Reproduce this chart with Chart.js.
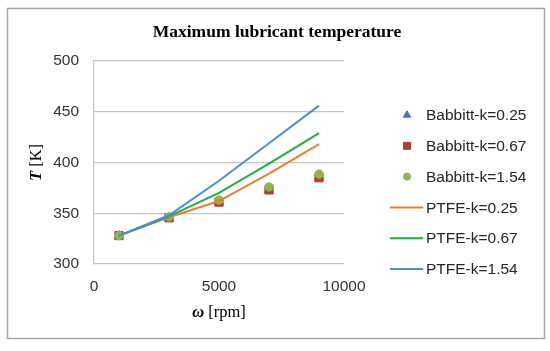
<!DOCTYPE html>
<html>
<head>
<meta charset="utf-8">
<script src="https://cdn.jsdelivr.net/npm/chart.js@4.4.1/dist/chart.umd.min.js"></script>
<style>
  html, body { margin: 0; padding: 0; background: #fff; }
</style>
</head>
<body>
<canvas id="tempChart" width="550" height="351"></canvas>
<script>
// rotational speed [rpm]
const rpm = [1000, 3000, 5000, 7000, 9000];

// measured (Babbitt) maximum lubricant temperature [K]
const babbittK025 = [328, 345.5, 361, 373, 385];
const babbittK067 = [328, 345.5, 361, 373, 385];
const babbittK154 = [328, 346.5, 363, 376, 388.5];

// PTFE curves [K]
const ptfeK025 = [328, 346, 362, 389, 418];
const ptfeK067 = [328, 347, 370, 399, 429];
const ptfeK154 = [328, 348, 382, 419, 456];

const seriesLabels = ['Babbitt-k=0.25', 'Babbitt-k=0.67', 'Babbitt-k=1.54', 'PTFE-k=0.25', 'PTFE-k=0.67', 'PTFE-k=1.54'];
const xTicks = [0, 5000, 10000];
const yTicks = [300, 350, 400, 450, 500];

const chartTitle = 'Maximum lubricant temperature';

const toPoints = (ys) => rpm.map((x, i) => ({ x: x, y: ys[i] }));

const markerSet = (label, ys, style, color, radius, order) => ({
    label: label,
    data: toPoints(ys),
    showLine: false,
    pointStyle: style,
    pointRadius: radius,
    pointHoverRadius: radius,
    pointBackgroundColor: color,
    pointBorderColor: color,
    pointBorderWidth: 1,
    backgroundColor: color,
    borderColor: color,
    order: order
});

const lineSet = (label, ys, color, order) => ({
    label: label,
    data: toPoints(ys),
    showLine: true,
    borderColor: color,
    backgroundColor: color,
    borderWidth: 2,
    pointRadius: 0,
    pointStyle: 'line',
    tension: 0,
    order: order
});

const tickFont = { family: 'Liberation Sans', size: 15.5 };

// frame, title, axis titles and legend
const decor = {
    id: 'decor',
    beforeDraw(chart) {
        const ctx = chart.ctx;
        ctx.save();
        ctx.fillStyle = '#ffffff';
        ctx.fillRect(0, 0, chart.width, chart.height);
        ctx.strokeStyle = '#a6a6a6';
        ctx.lineWidth = 1.5;
        ctx.strokeRect(7.5, 8.5, 537, 330);
        ctx.restore();
    },
    afterDraw(chart) {
        const ctx = chart.ctx;
        const area = chart.chartArea;
        ctx.save();

        // title
        ctx.fillStyle = '#000';
        ctx.font = 'bold 17.5px "Liberation Serif"';
        ctx.textAlign = 'center';
        ctx.textBaseline = 'middle';
        ctx.fillText(chartTitle, 277, 32);

        // axis titles: bold italic symbol + regular unit
        const mixed = (sym, unit, cx, cy, rot) => {
            ctx.save();
            ctx.translate(cx, cy);
            ctx.rotate(rot);
            const f1 = 'italic bold 16.5px "Liberation Serif"';
            const f2 = '16.5px "Liberation Serif"';
            ctx.font = f1;
            const w1 = ctx.measureText(sym).width;
            ctx.font = f2;
            const w2 = ctx.measureText(unit).width;
            let x = -(w1 + w2) / 2;
            ctx.textAlign = 'left';
            ctx.textBaseline = 'middle';
            ctx.font = f1;
            ctx.fillStyle = '#000';
            ctx.fillText(sym, x, 0);
            ctx.font = f2;
            ctx.fillText(unit, x + w1, 0);
            ctx.restore();
        };
        mixed('T', ' [K]', 37, (area.top + area.bottom) / 2, -Math.PI / 2);
        mixed('\u03c9', ' [rpm]', (area.left + area.right) / 2, 313, 0);

        // legend
        const rowY0 = 115, rowStep = 30.8;
        const markerX = 407, textX = 426, lineX1 = 390, lineX2 = 423;
        ctx.font = '15.5px "Liberation Sans"';
        ctx.textAlign = 'left';
        ctx.textBaseline = 'middle';
        chart.data.datasets.forEach((ds, i) => {
            const y = rowY0 + i * rowStep;
            if (ds.showLine) {
                ctx.strokeStyle = ds.borderColor;
                ctx.lineWidth = 2;
                ctx.beginPath();
                ctx.moveTo(lineX1, y);
                ctx.lineTo(lineX2, y);
                ctx.stroke();
            } else {
                ctx.fillStyle = ds.pointBackgroundColor;
                ctx.strokeStyle = ds.pointBorderColor;
                ctx.lineWidth = 1;
                Chart.helpers.drawPoint(ctx, {
                    pointStyle: ds.pointStyle,
                    radius: ds.pointRadius * 0.85,
                    rotation: 0,
                    borderWidth: 1
                }, markerX, y);
            }
            ctx.fillStyle = '#262626';
            ctx.fillText(ds.label, textX, y + 1);
        });
        ctx.restore();
    }
};

new Chart(document.getElementById('tempChart'), {
    type: 'scatter',
    data: {
        datasets: [
            markerSet(seriesLabels[0], babbittK025, 'triangle', '#4472c4', 5, 6),
            markerSet(seriesLabels[1], babbittK067, 'rect', '#b23b36', 5.8, 5),
            markerSet(seriesLabels[2], babbittK154, 'circle', '#8fb550', 4.2, 4),
            lineSet(seriesLabels[3], ptfeK025, '#ed7d31', 3),
            lineSet(seriesLabels[4], ptfeK067, '#1fad45', 2),
            lineSet(seriesLabels[5], ptfeK154, '#4a8ddb', 1)
        ]
    },
    options: {
        responsive: false,
        animation: false,
        devicePixelRatio: 1,
        layout: { padding: { top: 61, right: 206, left: 0, bottom: 0 } },
        plugins: {
            legend: { display: false },
            title: { display: false },
            tooltip: { enabled: false }
        },
        scales: {
            x: {
                type: 'linear',
                min: xTicks[0],
                max: xTicks[xTicks.length - 1],
                afterFit: (s) => { s.height = 87; },
                afterBuildTicks: (s) => { s.ticks = xTicks.map(v => ({ value: v })); },
                ticks: { font: tickFont, color: '#333', padding: 13, maxRotation: 0, callback: (v) => String(v) },
                grid: { display: false, drawTicks: false },
                border: { display: false }
            },
            y: {
                min: yTicks[0],
                max: yTicks[yTicks.length - 1],
                afterFit: (s) => { s.width = 94; },
                afterBuildTicks: (s) => { s.ticks = yTicks.map(v => ({ value: v })); },
                ticks: { font: tickFont, color: '#333', padding: 15, callback: (v) => String(v) },
                grid: { color: '#c4c4c4', lineWidth: 1.2, drawTicks: false },
                border: { display: true, color: '#c4c4c4', width: 1.2 }
            }
        }
    },
    plugins: [decor]
});
</script>
</body>
</html>
